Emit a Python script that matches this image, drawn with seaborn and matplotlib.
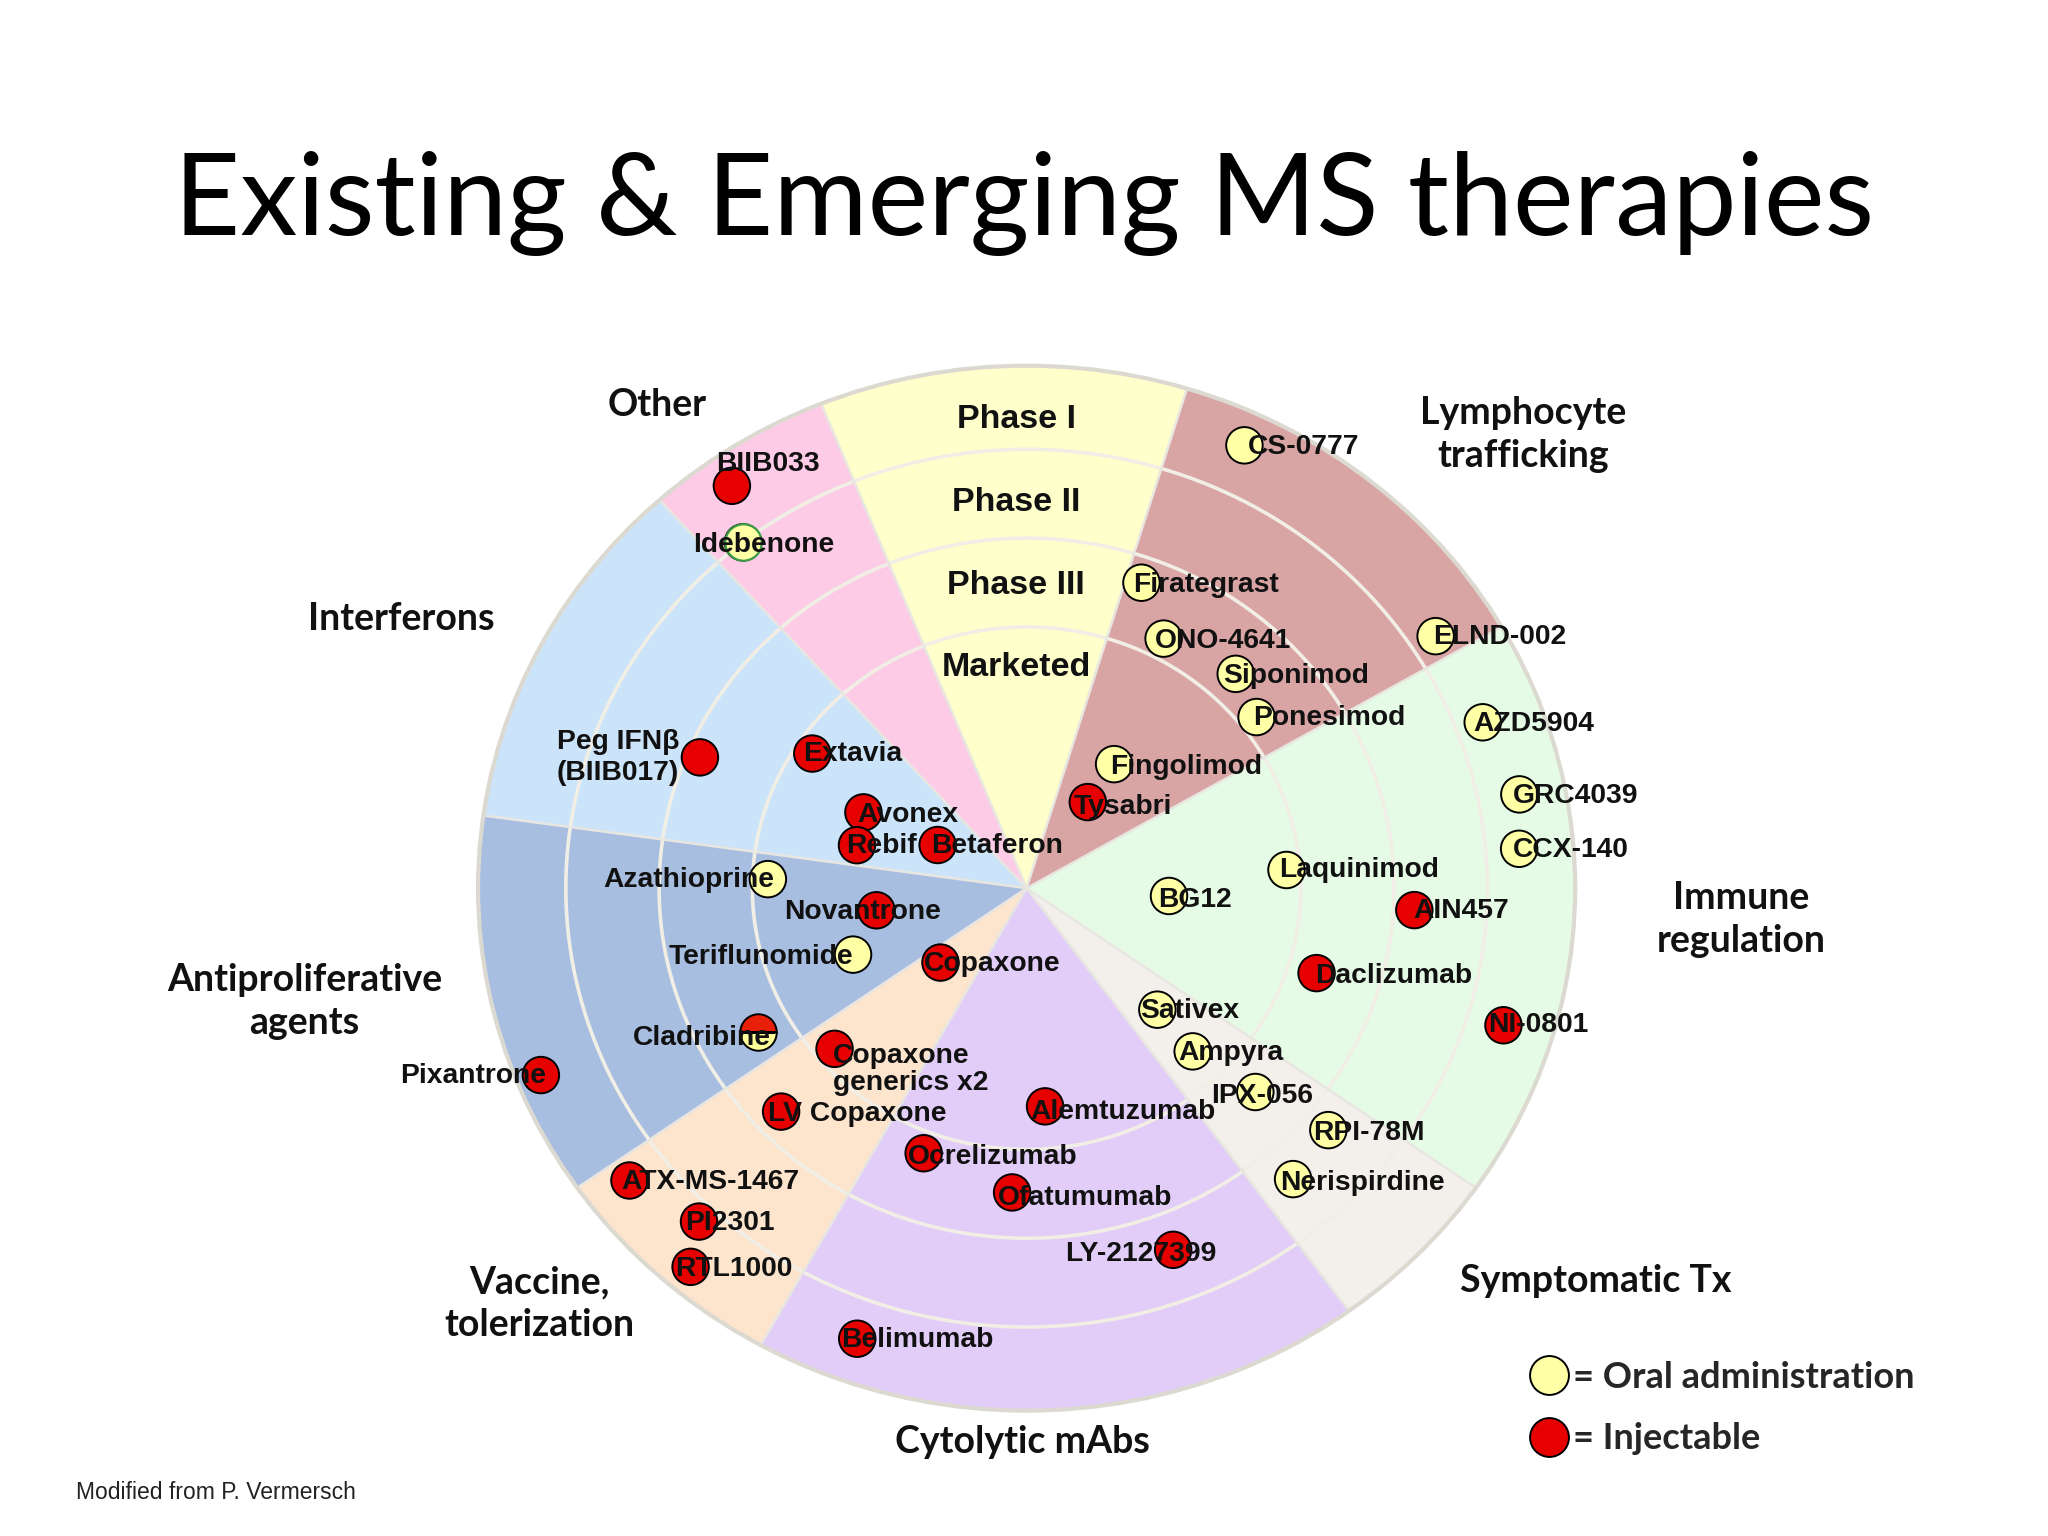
import numpy as np
import pandas as pd
import matplotlib
matplotlib.use("Agg")
import matplotlib.pyplot as plt
import seaborn as sns
from matplotlib.lines import Line2D
from matplotlib.font_manager import FontProperties

sns.set_theme(style="white")
plt.rcParams["font.family"] = ["Liberation Sans", "DejaVu Sans"]

# ---------------- data ----------------
sector_names = ["Immune regulation", "Lymphocyte trafficking", "Phases", "Other",
                "Interferons", "Antiproliferative agents", "Vaccine, tolerization",
                "Cytolytic mAbs", "Symptomatic Tx"]
sector_start = [-35, 30, 73, 112, 132, 172, 215, 241, 306]
sector_end = [30, 73, 112, 132, 172, 215, 241, 306, 325]
sector_colors = ["#e6fbe6", "#d9a4a4", "#ffffcc", "#fecbe6", "#cce4f9",
                 "#a8bee0", "#fde4cd", "#e2cdf9", "#f3f0ec"]
ring_edges = [0.5, 0.67, 0.84, 1.0]
phase_labels = ["Marketed", "Phase III", "Phase II", "Phase I"]

drug_names = ["BIIB033", "Idebenone", "CS-0777", "Firategrast", "ONO-4641", "Siponimod",
              "Ponesimod", "Fingolimod", "Tysabri", "ELND-002", "AZD5904", "GRC4039",
              "CCX-140", "Laquinimod", "BG12", "AIN457", "Daclizumab", "NI-0801",
              "Sativex", "Ampyra", "IPX-056", "RPI-78M", "Nerispirdine",
              "Peg IFN\u03b2\n(BIIB017)", "Extavia", "Avonex", "Rebif", "Betaferon",
              "Azathioprine", "Novantrone", "Teriflunomide", "Cladribine", "Pixantrone",
              "Copaxone", "Copaxone\ngenerics x2", "LV Copaxone", "ATX-MS-1467", "PI2301",
              "RTL1000", "Alemtuzumab", "Ocrelizumab", "Ofatumumab", "LY-2127399", "Belimumab"]
drug_angle = [124.9, 128.0, 64.9, 70.3, 62.4, 47.1, 38.0, 56.1, 55.9, 32.9, 20.9, 11.3,
              4.8, 4.2, -3.3, -3.4, -17.1, -16.8, -44.3, -45.9, -43.1, -40.1, -48.9,
              157.2, 146.6, 154.0, 165.1, 153.0, 177.9, 188.8, 201.9, 209.3, 202.0,
              222.2, 221.3, 223.7, 217.7, 226.9, 229.8, 274.6, 249.7, 267.4, 291.1, 250.3]
drug_radius = [0.939, 0.840, 0.936, 0.621, 0.539, 0.560, 0.532, 0.286, 0.199, 0.888,
               0.890, 0.916, 0.901, 0.475, 0.260, 0.708, 0.553, 0.908, 0.333, 0.435,
               0.571, 0.719, 0.739, 0.646, 0.468, 0.331, 0.320, 0.182, 0.472, 0.277,
               0.341, 0.562, 0.955, 0.212, 0.466, 0.619, 0.915, 0.874, 0.949, 0.419,
               0.541, 0.583, 0.742, 0.916]
drug_route = ["Injectable", "Oral", "Oral", "Oral", "Oral", "Oral", "Oral", "Oral",
              "Injectable", "Oral", "Oral", "Oral", "Oral", "Oral", "Oral", "Injectable",
              "Injectable", "Injectable", "Oral", "Oral", "Oral", "Oral", "Oral",
              "Injectable", "Injectable", "Injectable", "Injectable", "Injectable",
              "Oral", "Injectable", "Oral", "Both", "Injectable", "Injectable",
              "Injectable", "Injectable", "Injectable", "Injectable", "Injectable",
              "Injectable", "Injectable", "Injectable", "Injectable", "Injectable"]
legend_labels = ["= Oral administration", "= Injectable"]

# ---------------- styling / layout ----------------
ORAL = "#ffffa6"
INJ = "#e60000"
# label placement relative to the circle (ha, dx, dy) in reference px
label_style = {
    "BIIB033": ("left", -12, -17), "Idebenone": ("center", 16, 2),
    "CS-0777": ("left", 3, 1), "Firategrast": ("left", -6, 2), "ONO-4641": ("left", -7, 2),
    "Siponimod": ("left", -10, 2), "Ponesimod": ("left", -3, 1), "Fingolimod": ("left", -3, 2),
    "Tysabri": ("left", -11, 4), "ELND-002": ("left", -2, 1), "AZD5904": ("left", -7, 1),
    "GRC4039": ("left", -5, 1), "CCX-140": ("left", -5, 1), "Laquinimod": ("left", -6, 0),
    "BG12": ("left", -8, 3), "AIN457": ("left", -1, 1), "Daclizumab": ("left", -1, 2),
    "NI-0801": ("left", -12, 0), "Sativex": ("left", -13, 1), "Ampyra": ("left", -11, 1),
    "IPX-056": ("left", -34, 3), "RPI-78M": ("left", -12, 2), "Nerispirdine": ("left", -10, 3),
    "Peg IFN\u03b2\n(BIIB017)": ("right", -16, 0), "Extavia": ("left", -7, 0),
    "Avonex": ("left", -5, 2), "Rebif": ("left", -8, 1), "Betaferon": ("left", -5, 1),
    "Azathioprine": ("right", 5, 1), "Novantrone": ("center", -11, 1),
    "Teriflunomide": ("right", 0, 2), "Cladribine": ("right", 10, 5),
    "Pixantrone": ("right", 4, 1), "Copaxone": ("left", -13, 1),
    "Copaxone\ngenerics x2": ("left", -1, 16), "LV Copaxone": ("left", -10, 2),
    "ATX-MS-1467": ("left", -6, 1), "PI2301": ("left", -11, 1), "RTL1000": ("left", -12, 2),
    "Alemtuzumab": ("left", -11, 4), "Ocrelizumab": ("left", -12, 3),
    "Ofatumumab": ("left", -11, 4), "LY-2127399": ("left", -83, 3), "Belimumab": ("left", -12, 1),
}
W, H = 1568.0, 1176.0  # reference layout units
PT = 0.94              # points per reference px


def F(x, y):
    return x / W, 1 - y / H


fig = plt.figure(figsize=(20.48, 15.36), dpi=100)
fig.patch.set_facecolor("white")

cx, cy, rx, ry = 786, 680, 420, 400
ax = fig.add_axes([(cx - rx) / W, 1 - (cy + ry) / H, 2 * rx / W, 2 * ry / H],
                  projection="polar")
ax.set_aspect("auto")

# sectors
for s, e, c in zip(sector_start, sector_end, sector_colors):
    ax.bar(np.deg2rad((s + e) / 2), 1.0, width=np.deg2rad(e - s), bottom=0,
           color=c, edgecolor="none", zorder=1)
# ring lines
th = np.linspace(0, 2 * np.pi, 720)
for r in ring_edges[:-1]:
    ax.plot(th, np.full_like(th, r), color="#f1eee6", lw=2.6, zorder=2)
# sector boundaries
for s in sector_start:
    ax.plot([np.deg2rad(s)] * 2, [0, 1], color="#e8e6e0", lw=1.8, zorder=2)

# drugs
SZ = 690
df = pd.DataFrame({"name": drug_names, "theta": np.deg2rad(drug_angle),
                   "r": drug_radius, "route": drug_route})
main = df[df.route != "Both"]
sns.scatterplot(data=main, x="theta", y="r", hue="route",
                palette={"Oral": ORAL, "Injectable": INJ}, s=SZ,
                edgecolor="black", linewidth=1.4, legend=False, ax=ax, zorder=4)
ide = df[df.name == "Idebenone"]
ax.scatter(ide.theta, ide.r, s=SZ, c=ORAL, edgecolors="#3c9a46", linewidths=1.6, zorder=4)
mix = df[df.route == "Both"]
ax.plot(mix.theta, mix.r, linestyle="none", marker="o", markersize=np.sqrt(SZ),
        fillstyle="top", markerfacecolor="#e8200a", markerfacecoloralt="#ffff99",
        markeredgecolor="black", markeredgewidth=1.4, zorder=4)

for _, row in df.iterrows():
    ha, dx, dy = label_style[row["name"]]
    ma = "center" if row["name"].startswith("Peg") else "left"
    ls = 1.25 if row["name"].startswith("Peg") else 1.05
    ax.annotate(row["name"], xy=(row.theta, row.r), xytext=(dx * PT, -dy * PT),
                textcoords="offset points", ha=ha, va="center", multialignment=ma,
                linespacing=ls, fontsize=20.3, fontweight="bold", color="#111111", zorder=6)

ax.set_ylim(0, 1)
ax.set_xlabel("")
ax.set_ylabel("")
ax.set_xticks([])
ax.set_yticks([])
ax.grid(False)
ax.spines["polar"].set_color("#dcd9d1")
ax.spines["polar"].set_linewidth(3)
ax.set_facecolor("white")

# phase labels inside the yellow sector
phase_pos = [511, 448, 385, 321]
for lab, y in zip(phase_labels, phase_pos):
    fig.text(*F(778, y), lab, ha="center", va="center", fontsize=24.5,
             fontweight="bold", color="#111111")

# category labels
cat_font = dict(family=["Lato", "DejaVu Sans"], fontweight="bold", fontsize=27,
                color="#111111", ha="center", va="center", linespacing=1.32)
cat_text = [("Other", 503, 310), ("Lymphocyte\ntrafficking", 1166, 333),
            ("Interferons", 307, 474), ("Immune\nregulation", 1333, 704),
            ("Antiproliferative\nagents", 233, 767), ("Symptomatic Tx", 1222, 981),
            ("Vaccine,\ntolerization", 413, 998), ("Cytolytic mAbs", 783, 1104)]
for t, x, y in cat_text:
    fig.text(*F(x, y), t, **cat_font)

# title
title = fig.text(*F(784, 180), "Existing & Emerging MS therapies", ha="center",
                 va="baseline", family=["Lato", "DejaVu Sans"], fontsize=80, color="black")
fig.canvas.draw()
w = title.get_window_extent().width
title.set_fontsize(80 * (1302 * 2048 / W) / w)

# footer
fig.text(*F(58, 1143), "Modified from P. Vermersch", ha="left", va="center",
         fontsize=16.5, color="#222222")

# legend
handles = [Line2D([], [], linestyle="none", marker="o", markersize=28, markerfacecolor=c,
                  markeredgecolor="black", markeredgewidth=1.4) for c in (ORAL, INJ)]
fig.legend(handles, legend_labels, loc="center left", bbox_to_anchor=F(1153, 1078),
           frameon=False, handlelength=1.0, handletextpad=0.15, labelspacing=0.8,
           borderpad=0.2, prop=FontProperties(family=["Lato", "DejaVu Sans"],
                                              weight="bold", size=26))

fig.savefig("out.png", dpi=100, facecolor="white")
